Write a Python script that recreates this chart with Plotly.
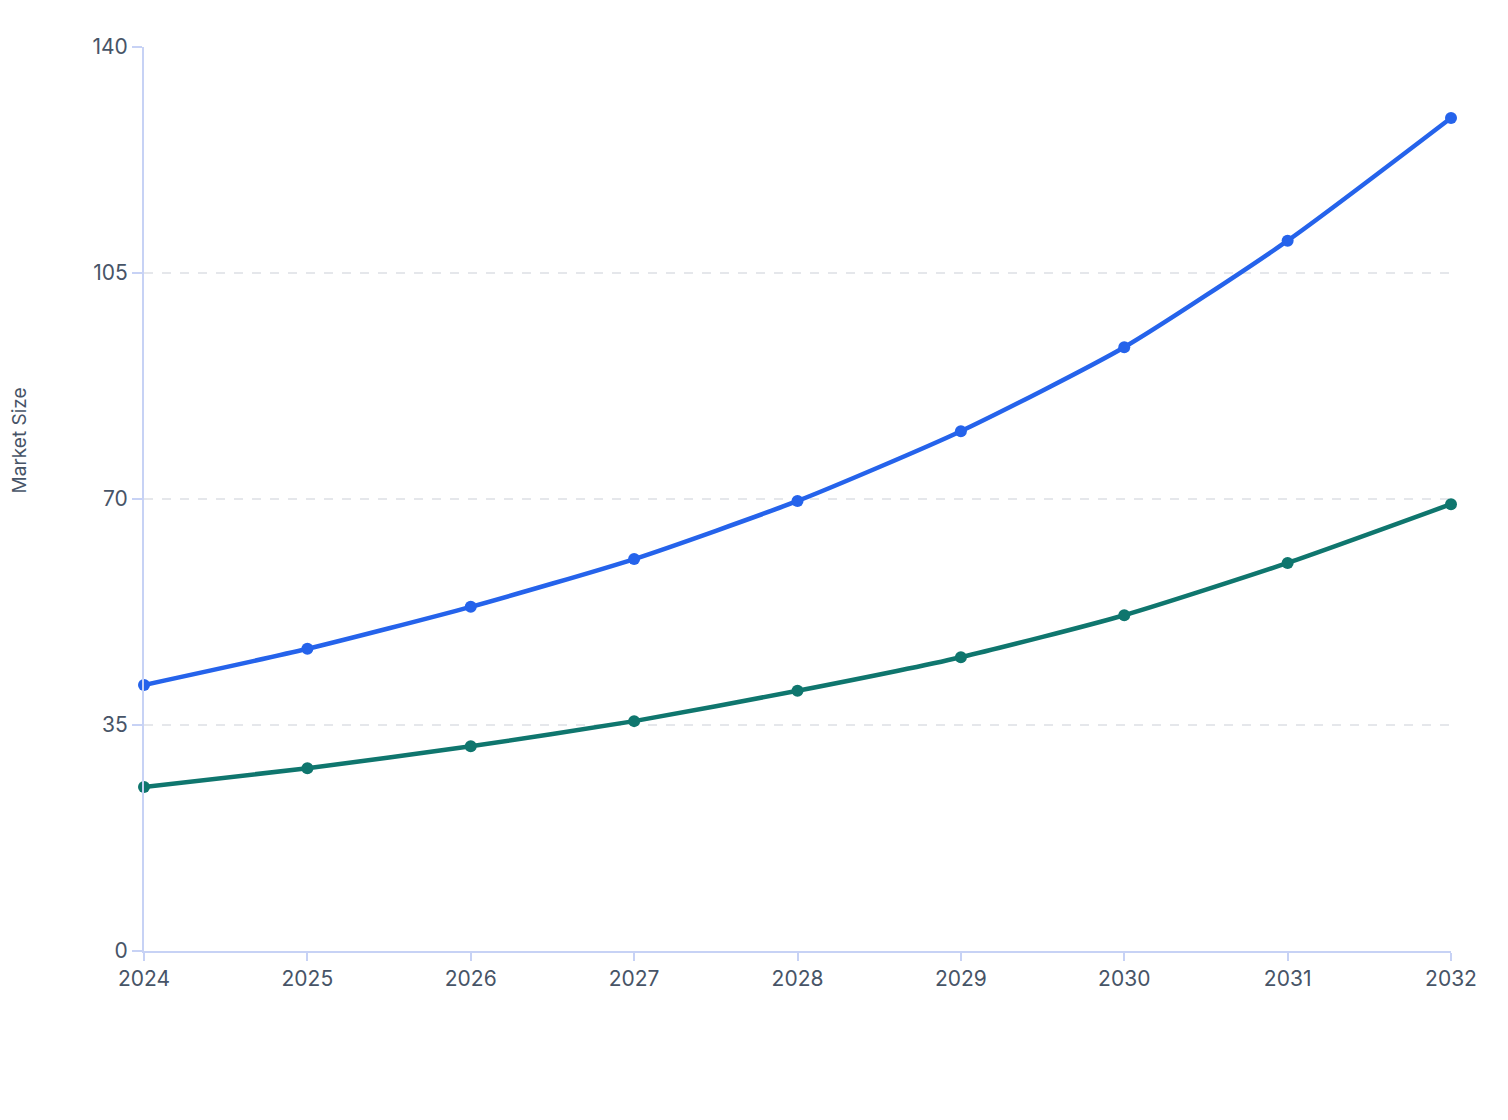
import plotly.graph_objects as go

years = [2024, 2025, 2026, 2027, 2028, 2029, 2030, 2031, 2032]
series_a = [41.2, 46.8, 53.3, 60.7, 69.7, 80.5, 93.5, 110.0, 129.0]
series_b = [25.4, 28.3, 31.7, 35.6, 40.3, 45.5, 52.0, 60.1, 69.2]
y_ticks = [0, 35, 70, 105, 140]

fig = go.Figure()
fig.add_trace(go.Scatter(x=years, y=series_a, mode="lines+markers",
                         line=dict(color="#2563eb", width=4.5, shape="spline", smoothing=0.6),
                         marker=dict(size=12, color="#2563eb"), name="A", cliponaxis=False))
fig.add_trace(go.Scatter(x=years, y=series_b, mode="lines+markers",
                         line=dict(color="#0f766e", width=4.5, shape="spline", smoothing=0.6),
                         marker=dict(size=12, color="#0f766e"), name="B", cliponaxis=False))

tick_font = dict(family="Inter, Roboto, sans-serif", size=21, color="#475467")
fig.update_layout(
    width=1492, height=1104,
    margin=dict(l=136, r=49, t=39, b=161),
    paper_bgcolor="white", plot_bgcolor="white",
    showlegend=False,
    font=dict(family="Inter, Roboto, sans-serif", color="#475467"),
)
fig.update_xaxes(
    range=[2024, 2032], tickvals=years, ticktext=[str(y) for y in years],
    showgrid=False, zeroline=False,
    showline=True, linecolor="#c7d2f5", linewidth=2,
    ticks="outside", ticklen=8, tickcolor="#c7d2f5", tickwidth=2,
    tickfont=tick_font,
)
fig.update_yaxes(
    range=[0, 140], tickvals=y_ticks,
    showgrid=True, gridcolor="#e5e7eb", griddash="dash", gridwidth=1.5,
    zeroline=False,
    showline=True, linecolor="#c7d2f5", linewidth=2,
    ticks="outside", ticklen=10, tickcolor="#c7d2f5", tickwidth=2,
    tickfont=tick_font,
    automargin=False,
)
fig.add_annotation(
    text="Market Size", textangle=-90, showarrow=False,
    xref="paper", yref="paper", x=-0.0955, y=0.565,
    xanchor="center", yanchor="middle",
    font=dict(family="Inter, Roboto, sans-serif", size=19, color="#475467"),
)
fig.write_html("out.html")
